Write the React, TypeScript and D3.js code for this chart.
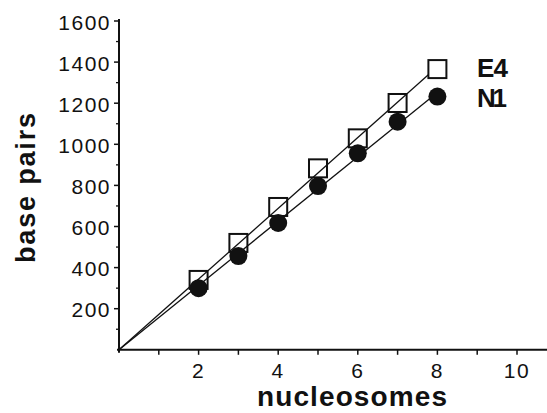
import React from "react";
import * as d3 from "d3";

// nucleosome counts and measured DNA lengths (bp)
const nucleosomes = [2, 3, 4, 5, 6, 7, 8];
const e4Values = [340, 520, 695, 883, 1029, 1201, 1366];
const n1Values = [300, 456, 617, 797, 956, 1110, 1232];
const yTicks = [200, 400, 600, 800, 1000, 1200, 1400, 1600];
const yMinorTicks = d3.range(100, 1600, 200);
const xTicks = d3.range(1, 11);
const xLabels = [2, 4, 6, 8, 10];

const W = 547;
const H = 413;

// least squares slope through the origin
function slope(xs, ys) {
  const sxy = d3.sum(xs, (x, i) => x * ys[i]);
  const sxx = d3.sum(xs, (x) => x * x);
  return sxy / sxx;
}

function App() {
  const x = d3.scaleLinear().domain([0, 10]).range([119, 517]);
  const y = d3.scaleLinear().domain([0, 1600]).range([349.8, 21]);
  const x0 = x(0);
  const y0 = y(0);

  const kE4 = slope(nucleosomes, e4Values);
  const kN1 = slope(nucleosomes, n1Values);
  const line = d3
    .line()
    .x((d) => x(d[0]))
    .y((d) => y(d[1]));

  const tickFont = {
    fontFamily: "Liberation Sans, Arial, sans-serif",
    fontSize: 21,
    fill: "#111",
  };
  const boldFont = {
    fontFamily: "Liberation Sans, Arial, sans-serif",
    fontWeight: "bold",
    fill: "#111",
  };

  return (
    <svg
      width={W}
      height={H}
      style={{ position: "absolute", left: 0, top: 0, background: "#fff" }}
    >
      {/* fitted lines */}
      <path
        d={line([
          [0, 0],
          [7.78, kE4 * 7.78],
        ])}
        stroke="#111"
        strokeWidth={1.3}
        fill="none"
      />
      <path
        d={line([
          [0, 0],
          [8, kN1 * 8],
        ])}
        stroke="#111"
        strokeWidth={1.3}
        fill="none"
      />

      {/* axes */}
      <line x1={x0} x2={x0} y1={y(1600) - 2} y2={y0 + 3} stroke="#111" strokeWidth={2} />
      <line x1={x0 - 2} x2={W} y1={y0} y2={y0} stroke="#111" strokeWidth={2} />
      {yTicks.map((t) => (
        <g key={t}>
          <line x1={x0 - 5} x2={x0} y1={y(t)} y2={y(t)} stroke="#111" strokeWidth={1.5} />
          <text
            x={x0 - 8}
            y={y(t) + 1}
            textAnchor="end"
            dominantBaseline="central"
            letterSpacing={1.5}
            {...tickFont}
          >
            {t}
          </text>
        </g>
      ))}
      {yMinorTicks.map((t) => (
        <line key={t} x1={x0 - 3} x2={x0} y1={y(t)} y2={y(t)} stroke="#111" strokeWidth={1.3} />
      ))}
      {xTicks.map((t) => (
        <line key={t} x1={x(t)} x2={x(t)} y1={y0} y2={y0 + 5} stroke="#111" strokeWidth={1.5} />
      ))}
      {xLabels.map((t) => (
        <text
          key={t}
          x={x(t)}
          y={370}
          textAnchor="middle"
          dominantBaseline="central"
          letterSpacing={1.5}
          {...tickFont}
        >
          {t}
        </text>
      ))}

      {/* markers */}
      {nucleosomes.map((n, i) => (
        <rect
          key={"s" + n}
          x={x(n) - 9}
          y={y(e4Values[i]) - 9}
          width={18}
          height={18}
          fill="none"
          stroke="#111"
          strokeWidth={2}
        />
      ))}
      {nucleosomes.map((n, i) => (
        <circle key={"c" + n} cx={x(n)} cy={y(n1Values[i])} r={9} fill="#111" />
      ))}

      {/* legend labels */}
      <text x={477} y={77} fontSize={26} textLength={31} {...boldFont}>
        E4
      </text>
      <text x={477} y={107} fontSize={26} textLength={30} {...boldFont}>
        N1
      </text>

      {/* axis titles */}
      <text
        transform="translate(35,188) rotate(-90)"
        textAnchor="middle"
        fontSize={27}
        textLength={150}
        {...boldFont}
      >
        base pairs
      </text>
      <text x={352} y={406} textAnchor="middle" fontSize={28} textLength={190} {...boldFont}>
        nucleosomes
      </text>
    </svg>
  );
}

export default App;
